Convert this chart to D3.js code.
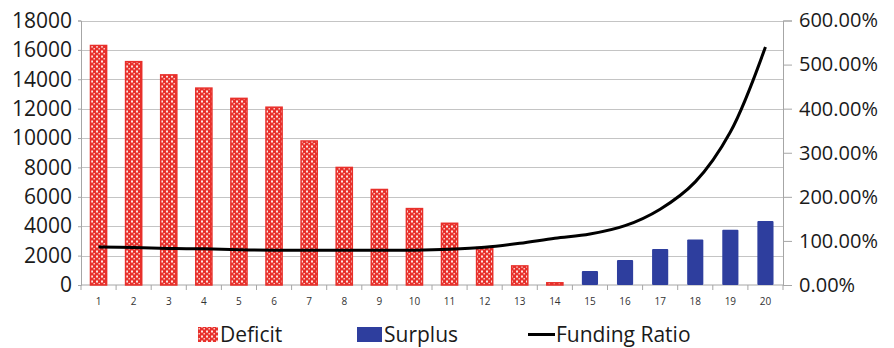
<!DOCTYPE html>
<html>
<head>
<meta charset="utf-8">
<script src="https://cdn.jsdelivr.net/npm/d3@7"></script>
<style>
  html, body { margin: 0; padding: 0; background: #fff; }
  svg { display: block; font-family: "Open Sans", "Noto Sans", sans-serif; }
</style>
</head>
<body>
<svg id="chart" width="894" height="348"></svg>
<script>
// Years 1..20
const periods = d3.range(1, 21);
// Deficit amounts (years 1-14), surplus amounts (years 15-20)
const deficit = [16300, 15200, 14300, 13400, 12700, 12100, 9800, 8000, 6500, 5200, 4200, 2550, 1300, 150, 0, 0, 0, 0, 0, 0];
const surplus = [0, 0, 0, 0, 0, 0, 0, 0, 0, 0, 0, 0, 0, 0, 950, 1700, 2450, 3100, 3760, 4350];
// Funding ratio (percent)
const fundingRatio = [86, 85, 83, 82, 80, 79, 79, 79, 79, 79, 81, 85.5, 94.5, 106, 115.5, 134.5, 172, 234, 347, 540];
const leftTicks = [0, 2000, 4000, 6000, 8000, 10000, 12000, 14000, 16000, 18000];
const rightTicks = [0, 100, 200, 300, 400, 500, 600];
const legendLabels = ["Deficit", "Surplus", "Funding Ratio"];

const svg = d3.select("#chart");
const plotLeft = 81, plotRight = 783, plotTop = 20.5, plotBottom = 285;

const x = d3.scaleBand().domain(periods).range([plotLeft, plotRight]).paddingInner(0.54).paddingOuter(0.27);
const xb = d3.scaleBand().domain(periods).range([plotLeft, plotRight]);
const yL = d3.scaleLinear().domain([0, 18000]).range([plotBottom, plotTop]);
const yR = d3.scaleLinear().domain([0, 600]).range([plotBottom, plotTop]);

// checker fill for deficit bars
const defs = svg.append("defs");
const pat = defs.append("pattern").attr("id", "checker")
  .attr("patternUnits", "userSpaceOnUse").attr("width", 5).attr("height", 5);
pat.append("rect").attr("width", 5).attr("height", 5).attr("fill", "#e8302b");
pat.append("rect").attr("x", 1).attr("y", 0.5).attr("width", 2).attr("height", 2).attr("fill", "#fde6e4");
pat.append("rect").attr("x", 3.5).attr("y", 3).attr("width", 1.5).attr("height", 1.5).attr("fill", "#f9c9c5");

// gridlines
svg.append("g").selectAll("line").data(leftTicks.filter(d => d > 0)).join("line")
  .attr("x1", plotLeft).attr("x2", plotRight)
  .attr("y1", d => Math.round(yL(d)) + 0.5).attr("y2", d => Math.round(yL(d)) + 0.5)
  .attr("stroke", "#c4c4c4").attr("stroke-width", 1);

// left axis
const gL = svg.append("g").attr("transform", `translate(${plotLeft},0)`)
  .call(d3.axisLeft(yL).tickValues(leftTicks).tickSize(3).tickPadding(6).tickFormat(d3.format("d")));
gL.selectAll("text").attr("font-size", 21).attr("fill", "#1a1a1a").attr("font-family", "Open Sans");

// right axis
const gR = svg.append("g").attr("transform", `translate(${plotRight},0)`)
  .call(d3.axisRight(yR).tickValues(rightTicks).tickSize(9).tickPadding(7).tickFormat(d => d.toFixed(2) + "%"));
gR.selectAll("text").attr("font-size", 20).attr("fill", "#1a1a1a").attr("font-family", "Open Sans");

// bottom axis, ticks between categories
const gB = svg.append("g").attr("transform", `translate(0,${plotBottom})`);
gB.append("line").attr("x1", plotLeft).attr("x2", plotRight).attr("stroke", "#a6a6a6");
gB.selectAll("line.t").data(d3.range(0, 21)).join("line").attr("class", "t")
  .attr("x1", i => plotLeft + xb.step() * i).attr("x2", i => plotLeft + xb.step() * i)
  .attr("y1", 0).attr("y2", 5).attr("stroke", "#a6a6a6");
gB.selectAll("text").data(periods).join("text")
  .attr("x", d => xb(d) + xb.bandwidth() / 2).attr("y", 20)
  .attr("text-anchor", "middle").attr("font-size", 10).attr("fill", "#333")
  .text(d => d);

[gL, gR].forEach(g => {
  g.select(".domain").attr("stroke", "#a6a6a6");
  g.selectAll(".tick line").attr("stroke", "#a6a6a6");
});

// deficit bars
svg.append("g").selectAll("rect").data(periods.filter((d, i) => deficit[i] > 0)).join("rect")
  .attr("x", d => x(d)).attr("width", x.bandwidth())
  .attr("y", d => yL(deficit[d - 1])).attr("height", d => plotBottom - yL(deficit[d - 1]))
  .attr("fill", "url(#checker)").attr("stroke", "#e8302b").attr("stroke-width", 1.5);

// surplus bars
svg.append("g").selectAll("rect").data(periods.filter((d, i) => surplus[i] > 0)).join("rect")
  .attr("x", d => x(d)).attr("width", x.bandwidth())
  .attr("y", d => yL(surplus[d - 1])).attr("height", d => plotBottom - yL(surplus[d - 1]))
  .attr("fill", "#2e3e9e").attr("rx", 1);

// funding ratio line
const line = d3.line()
  .x((d, i) => xb(periods[i]) + xb.bandwidth() / 2)
  .y(d => yR(d))
  .curve(d3.curveCatmullRom.alpha(0.5));
svg.append("path").datum(fundingRatio).attr("d", line)
  .attr("fill", "none").attr("stroke", "#000").attr("stroke-width", 3);

// legend
const lg = svg.append("g").attr("font-size", 21).attr("fill", "#1a1a1a");
lg.append("rect").attr("x", 198).attr("y", 327).attr("width", 20).attr("height", 15)
  .attr("fill", "url(#checker)");
lg.append("text").attr("x", 220).attr("y", 342).text(legendLabels[0]);
lg.append("rect").attr("x", 357).attr("y", 327).attr("width", 25).attr("height", 15)
  .attr("fill", "#2e3e9e");
lg.append("text").attr("x", 384).attr("y", 342).text(legendLabels[1]);
lg.append("line").attr("x1", 528).attr("x2", 555).attr("y1", 334.5).attr("y2", 334.5)
  .attr("stroke", "#000").attr("stroke-width", 3);
lg.append("text").attr("x", 556).attr("y", 342).text(legendLabels[2]);
</script>
</body>
</html>
